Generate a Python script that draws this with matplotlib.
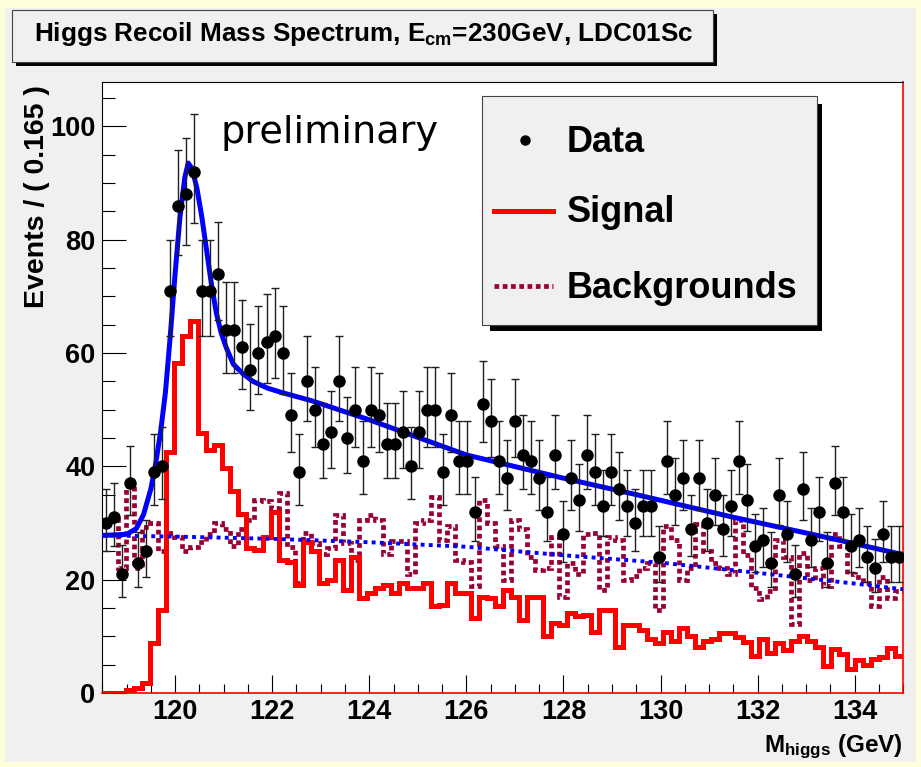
import numpy as np
import matplotlib
matplotlib.use('Agg')
import matplotlib.pyplot as plt
from matplotlib.patches import Rectangle
from matplotlib.lines import Line2D

plt.rcParams['font.family'] = ['Liberation Sans', 'DejaVu Sans']
plt.rcParams['font.weight'] = 'bold'
plt.rcParams['mathtext.fontset'] = 'custom'
plt.rcParams['mathtext.rm'] = 'Liberation Sans:bold'
plt.rcParams['mathtext.it'] = 'Liberation Sans:bold'
plt.rcParams['mathtext.bf'] = 'Liberation Sans:bold'

# 100 bins of 0.165 GeV from 118.5 to 135
m_lo, m_hi, nbins = 118.5, 135.0, 100
edges = np.linspace(m_lo, m_hi, nbins + 1)
centers = 0.5 * (edges[:-1] + edges[1:])

data = np.array([
    30, 31, 21, 37, 23, 25, 39, 40, 71, 86,
    88, 92, 71, 71, 74, 64, 64, 61, 57, 60,
    62, 63, 60, 49, 39, 55, 50, 44, 46, 55,
    45, 50, 41, 50, 49, 44, 44, 46, 40, 46,
    50, 50, 39, 49, 41, 41, 32, 51, 48, 41,
    38, 48, 42, 41, 38, 32, 42, 28, 38, 34,
    42, 39, 33, 39, 36, 33, 30, 33, 33, 24,
    41, 35, 38, 29, 38, 30, 35, 29, 33, 41,
    34, 26, 27, 23, 35, 28, 21, 36, 27, 32,
    23, 37, 32, 26, 27, 24, 22, 28, 24, 24], dtype=float)

signal = np.array([
    0, 0, 0, 0.6, 0.9, 1.8, 8.8, 14.6, 42.6, 58.3,
    63, 65.7, 45.8, 42.9, 43.8, 39.7, 35.6, 31.5, 25.5, 25.2,
    27.5, 31.9, 23.5, 23.2, 19, 26.7, 25, 19.4, 19.9, 23.5,
    18.2, 24, 16.7, 17.6, 18.5, 19, 17.6, 19.4, 18.5, 18.5,
    19.4, 15.3, 15.6, 19.4, 17.6, 17.6, 13.2, 17, 16.7, 15.3,
    18.2, 17, 12.9, 17, 17, 10, 12.3, 12, 14.1, 13.5,
    13.8, 10.8, 14.6, 14.6, 8.2, 12, 12, 11.2, 9.5, 8.8,
    10.7, 9.2, 11.4, 10, 8.1, 9.2, 9.6, 10.5, 10.5, 9.9,
    9, 6.6, 9.6, 7, 8.8, 7.6, 9.1, 10.1, 9.1, 8.1,
    4.7, 7.8, 6.8, 4.2, 5.8, 5, 6, 6.3, 7.9, 6.6])

backgrounds = np.array([
    30, 30.5, 22, 36.5, 22, 29.3, 30, 25, 28.2, 27.5,
    25, 25.8, 26.7, 28, 30, 29, 26, 29, 30.6, 34,
    33.8, 32.6, 35.2, 25.8, 19.4, 28.2, 26.4, 24.6, 25.5, 31.4,
    26.4, 23.5, 30.6, 31.4, 30.5, 24.6, 26.8, 26.8, 21, 30,
    30.5, 34.6, 27, 29.5, 23.5, 23.1, 18.8, 34, 30, 26,
    20, 30.5, 29, 24, 21.7, 22, 27.6, 17, 23, 21,
    28, 28.2, 18.2, 27.6, 27, 20, 20.6, 22, 23, 14.6,
    29.5, 27, 20, 22, 29.8, 25, 23, 22, 21, 30.5,
    24.4, 18.5, 16.5, 18, 27, 24, 12.2, 24.7, 20, 22,
    18.8, 28, 25.9, 21, 20.5, 19.4, 15.3, 20.5, 16.7, 18])

# total fit curve (signal + background pdf)
fit_m = [118.5, 119.0, 119.2, 119.35, 119.5, 119.6, 119.7, 119.8, 119.9, 120.0,
         120.1, 120.2, 120.27, 120.35, 120.45, 120.55, 120.65, 120.75, 120.85, 120.95,
         121.05, 121.2, 121.4, 121.6, 121.9, 122.2, 122.8, 124.0, 126.0, 128.0,
         129.5, 131.5, 133.5, 135.0]
fit_total = [27.8, 28.0, 29.0, 31.5, 36, 40.5, 46, 53, 63, 74,
             84, 91, 93.5, 92.5, 89, 84, 78, 72, 67, 63.5,
             61, 58, 56.3, 55, 53.8, 53, 51.6, 48.2, 42, 37.9,
             35, 31, 27.3, 24.4]
# background component of the fit
bkg_m = [118.5, 120, 122, 124, 126, 128, 130, 132, 134, 135]
bkg_fit = [27.8, 27.6, 27.2, 26.6, 25.8, 24.3, 23.0, 21.2, 19.3, 18.3]

yerr_lo = np.sqrt(data + 0.25) - 0.5
yerr_hi = np.sqrt(data + 0.25) + 0.5

W, H = 921, 767
fig = plt.figure(figsize=(W / 100, H / 100), dpi=100)
fig.patch.set_facecolor('#ffffdc')


def fx(x):
    return x / W


def fy(y):
    return 1 - y / H


def box(x0, y0, x1, y1, **kw):
    r = Rectangle((fx(x0), fy(y1)), fx(x1) - fx(x0), fy(y0) - fy(y1),
                  transform=fig.transFigure, **kw)
    fig.patches.append(r)


# canvas
box(5, 8, 916, 762, facecolor='#f0f0f0', edgecolor='none', zorder=-5)

ax = fig.add_axes([fx(102.3), fy(693), fx(903.3) - fx(102.3), fy(82) - fy(693)])
ax.set_facecolor('white')

maroon = '#990033'
ax.stairs(backgrounds, edges, baseline=None, color=maroon, lw=3.4,
          linestyle=(0, (1, 0.75)), zorder=2)
ax.stairs(signal, edges, baseline=None, color='#ff0000', lw=3.6, zorder=3)
ax.plot(bkg_m, bkg_fit, color='#0000ff', lw=2.8, linestyle=(0, (1, 1.1)), zorder=4)
ax.plot(fit_m, fit_total, color='#0000ff', lw=3.6, zorder=4)
ax.errorbar(centers, data, yerr=[yerr_lo, yerr_hi], fmt='o', color='black',
            ecolor='#202020', ms=8, elinewidth=1, capsize=3, capthick=1, zorder=5)

ax.set_xlim(m_lo, m_hi)
ax.set_ylim(0, 107.8)
ax.set_xticks(np.arange(120, 135, 2))
ax.set_xticks(np.arange(118.5, 135.01, 0.5), minor=True)
ax.set_yticks(np.arange(0, 101, 20))
ax.set_yticks(np.arange(0, 106, 5), minor=True)
ax.tick_params(axis='both', which='both', direction='in', width=0.8,
               labelsize=19.5, top=False, right=False)
ax.tick_params(axis='y', which='major', length=17.5, pad=5)
ax.tick_params(axis='y', which='minor', length=9)
ax.tick_params(axis='x', which='major', length=12.7, pad=4)
ax.tick_params(axis='x', which='minor', length=6.7)
for lab in ax.get_xticklabels() + ax.get_yticklabels():
    lab.set_fontweight('bold')

for side in ('left', 'top'):
    ax.spines[side].set_color('black')
    ax.spines[side].set_linewidth(0.8)
for side in ('right', 'bottom'):
    ax.spines[side].set_color('#ff0000')
    ax.spines[side].set_linewidth(1.2)

fig.text(fx(37.5), fy(85), 'Events / ( 0.165 )', rotation=90, ha='center',
         va='top', fontsize=20.5, fontweight='bold')
fig.text(fx(903), fy(752), r'M$_{\rm higgs}$ (GeV)', ha='right', va='baseline',
         fontsize=17.5, fontweight='bold')

ax.text(fx(220), fy(143), 'preliminary', transform=fig.transFigure,
        family='DejaVu Sans', fontweight='normal', fontsize=27.5,
        ha='left', va='baseline', zorder=6)

# title box
box(16, 14, 717, 66, facecolor='black', edgecolor='none', zorder=1)
box(12, 10, 713, 62, facecolor='#f0f0f0', edgecolor='#444444', lw=0.8, zorder=2)
fig.text(fx(364), fy(41), r'Higgs Recoil Mass Spectrum, E$_{\rm cm}$=230GeV, LDC01Sc',
         ha='center', va='baseline', fontsize=18.8, fontweight='bold', zorder=3)

# legend
box(490, 104, 822, 331, facecolor='black', edgecolor='none', zorder=10)
box(482, 96, 817, 325, facecolor='#f0f0f0', edgecolor='#444444', lw=0.8, zorder=11)
fig.lines.append(Line2D([fx(525)], [fy(140)], marker='o', ms=6.5, color='black',
                        transform=fig.transFigure, zorder=12))
fig.lines.append(Line2D([fx(494), fx(553)], [fy(211), fy(211)], color='#ff0000',
                        lw=3.6, transform=fig.transFigure, zorder=12))
fig.lines.append(Line2D([fx(494), fx(553)], [fy(286), fy(286)], color=maroon,
                        lw=3.4, linestyle=(0, (1, 0.75)), transform=fig.transFigure, zorder=12))
for label, yb in (('Data', 151.5), ('Signal', 221.5), ('Backgrounds', 298)):
    fig.text(fx(567), fy(yb), label, ha='left', va='baseline', fontsize=26,
             fontweight='bold', zorder=12)

fig.savefig('out.png', dpi=100, facecolor=fig.get_facecolor())
